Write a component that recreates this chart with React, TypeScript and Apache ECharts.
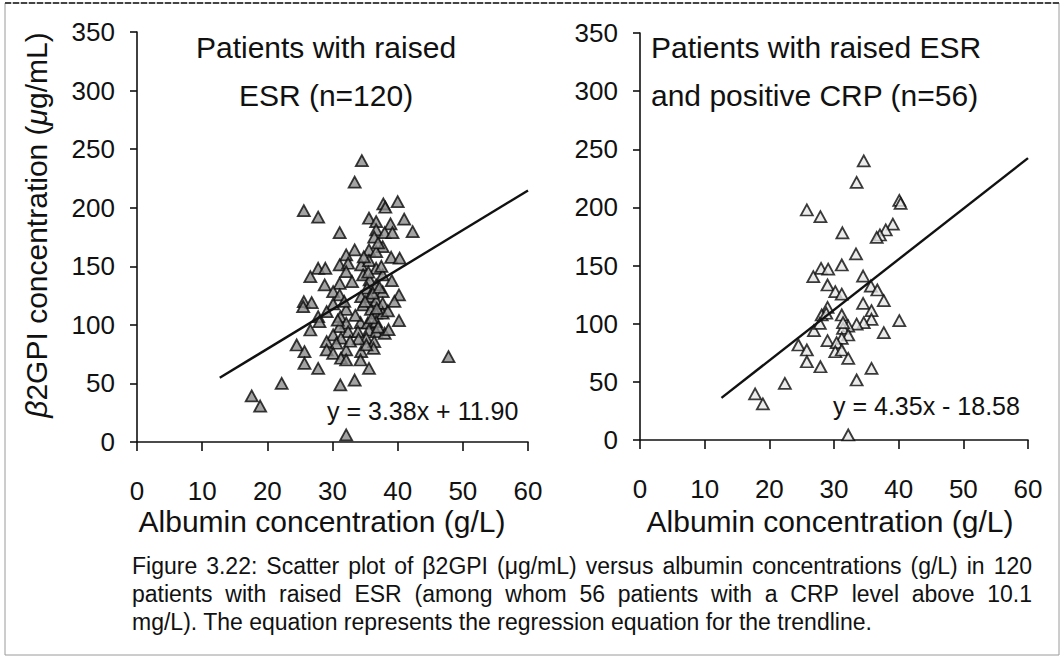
import React, { useEffect, useRef } from "react";
import * as echarts from "echarts";

// ---- Data: all patients with raised ESR (n=120) ----
const esrAlbumin = [
  34.5, 33.4, 40.0, 37.8, 38.1, 25.6, 27.8, 41.0, 35.6, 36.7, 38.9, 42.3, 31.1, 36.7, 38.0, 39.2, 36.4, 37.7, 33.4, 35.6,
  32.1, 36.7, 39.0, 40.3, 31.1, 32.4, 27.8, 28.9, 34.4, 35.6, 36.7, 32.1, 26.6, 34.7, 37.7, 35.7, 39.1, 28.8, 31.1, 36.7,
  30.1, 35.3, 37.7, 31.1, 34.4, 35.7, 40.2, 36.7, 25.6, 26.8, 37.7, 25.5, 30.1, 34.7, 35.9, 32.1, 29.1, 36.7, 37.7, 27.8,
  31.2, 40.2, 28.0, 32.1, 34.3, 35.4, 36.7, 26.6, 31.1, 32.4, 33.9, 35.6, 36.7, 38.0, 30.1, 31.3, 35.2, 29.1, 24.5, 30.6,
  36.4, 25.7, 29.1, 30.1, 32.1, 34.4, 31.3, 32.1, 34.3, 25.7, 27.8, 35.6, 33.4, 31.2, 22.2, 17.6, 18.9, 32.1, 47.8, 36.2,
  37.2, 35.0, 36.0, 37.0, 33.5, 34.0, 36.8, 35.5, 33.0, 38.6, 31.8, 36.3, 37.5, 34.8, 30.8, 38.5, 35.2, 32.7, 37.0, 39.5,
];
const esrB2gpi = [
  240.2, 221.8, 205.2, 203.2, 200.4, 197.5, 191.9, 190.2, 191.0, 188.1, 186.2, 179.6, 178.7, 181.0, 178.7, 178.7, 174.8, 166.8, 164.0, 164.0,
  159.7, 162.5, 157.7, 156.9, 151.2, 152.6, 148.3, 148.3, 151.2, 154.8, 148.3, 145.4, 141.2, 142.6, 142.6, 138.3, 137.7, 134.1, 135.5, 134.1,
  128.4, 131.3, 128.4, 125.5, 124.1, 124.1, 125.5, 120.7, 119.8, 119.0, 118.4, 115.5, 117.8, 117.0, 113.3, 113.3, 111.3, 109.9, 109.9, 107.0,
  107.0, 103.6, 102.7, 101.4, 101.9, 101.4, 102.7, 95.6, 98.5, 94.2, 94.2, 95.6, 94.2, 92.8, 91.4, 88.6, 88.6, 85.7, 82.8, 84.3,
  85.7, 77.1, 78.6, 75.7, 78.6, 77.1, 71.5, 70.0, 70.0, 67.2, 62.9, 62.9, 52.9, 48.7, 50.1, 39.3, 30.7, 6.0, 72.8, 127.0,
  132.0, 120.0, 106.0, 98.0, 108.0, 88.0, 114.0, 145.0, 137.0, 96.0, 120.0, 80.0, 150.0, 158.0, 104.0, 112.0, 83.0, 86.0, 170.0, 120.0,
];

// ---- Data: raised ESR and positive CRP (n=56) ----
const crpAlbumin = [
  34.6, 33.5, 40.1, 40.3, 25.8, 27.9, 39.1, 38.0, 37.1, 36.6, 31.3, 33.4, 31.2, 28.0, 29.1, 26.8, 34.5, 29.0, 35.7, 30.2,
  31.2, 36.7, 37.7, 34.5, 35.8, 29.0, 28.1, 31.2, 35.8, 34.6, 33.5, 40.1, 32.2, 31.4, 26.9, 27.8, 37.7, 32.2, 31.2, 29.0,
  30.4, 24.5, 25.8, 30.2, 31.2, 32.2, 25.8, 27.9, 35.8, 33.5, 22.4, 17.8, 19.0, 32.2, 28.8, 31.4,
];
const crpB2gpi = [
  240.0, 221.6, 206.0, 203.5, 197.8, 192.0, 185.7, 180.6, 176.3, 174.3, 178.2, 160.0, 150.5, 147.6, 147.0, 140.4, 141.0, 133.3, 132.4, 127.5,
  125.5, 129.0, 119.8, 117.5, 111.2, 114.1, 107.5, 107.5, 103.8, 100.9, 99.7, 102.6, 98.0, 96.0, 94.0, 100.3, 92.3, 90.3, 87.4, 85.4,
  83.7, 81.7, 77.4, 75.9, 77.4, 70.2, 67.3, 63.0, 61.6, 51.6, 48.7, 39.6, 31.0, 4.3, 109.0, 100.9,
];

// Regression trendlines (from the printed equations)
const esrSlope = 3.38;
const esrIntercept = 11.9;
const esrRange = [12.7, 60];
const crpSlope = 4.35;
const crpIntercept = -18.58;
const crpRange = [12.6, 60];

const xTickValues = [0, 10, 20, 30, 40, 50, 60];
const yTickValues = [0, 50, 100, 150, 200, 250, 300, 350];

const leftTitle = "Patients with raised\nESR (n=120)";
const rightTitle = "Patients with raised ESR\nand positive CRP (n=56)";
const leftEquation = "y = 3.38x + 11.90";
const rightEquation = "y = 4.35x - 18.58";
const xAxisTitle = "Albumin concentration (g/L)";
const captionLines = [
  "Figure 3.22: Scatter plot of \u03b22GPI (\u03bcg/mL) versus albumin concentrations (g/L) in 120",
  "patients with raised ESR (among whom 56 patients with a CRP level above 10.1",
  "mg/L). The equation represents the regression equation for the trendline.",
];

const FONT = "'Liberation Sans', Arial, Helvetica, sans-serif";

function pairs(xs: number[], ys: number[]) {
  return xs.map((x, i) => [x, ys[i]]);
}
function trend(slope: number, intercept: number, range: number[]) {
  return range.map((x) => [x, slope * x + intercept]);
}

// Lay out one caption line word by word so that it fills the given width (justified text)
function justifiedLine(text: string, left: number, width: number, y: number, font: string, justify: boolean) {
  const canvas = document.createElement("canvas");
  const ctx = canvas.getContext("2d")!;
  ctx.font = font;
  if (!justify) {
    return [{ type: "text", x: left, y, style: { text, font, fill: "#111", align: "left", verticalAlign: "middle" } }];
  }
  const words = text.split(" ");
  const widths = words.map((w) => ctx.measureText(w).width);
  const total = widths.reduce((a, b) => a + b, 0);
  const gap = (width - total) / (words.length - 1);
  let x = left;
  return words.map((w, i) => {
    const el = { type: "text", x, y, style: { text: w, font, fill: "#111", align: "left", verticalAlign: "middle" } };
    x += widths[i] + gap;
    return el;
  });
}

export default function App() {
  const ref = useRef<HTMLDivElement>(null);
  useEffect(() => {
    if (!ref.current) return;
    const chart = echarts.init(ref.current, undefined, { renderer: "svg" });

    const axisText = { color: "#111", fontSize: 26, fontFamily: FONT };
    const makeX = (gridIndex: number) => ({
      type: "value",
      gridIndex,
      min: 0,
      max: 60,
      interval: 10,
      splitLine: { show: false },
      axisLine: { show: true, onZero: false, lineStyle: { color: "#111", width: 1.6 } },
      axisTick: { show: true, inside: false, length: 9, lineStyle: { color: "#111", width: 1.6 } },
      axisLabel: { ...axisText, margin: 36, formatter: (v: number) => (xTickValues.includes(v) ? String(v) : "") },
    });
    const makeY = (gridIndex: number) => ({
      type: "value",
      gridIndex,
      min: 0,
      max: 350,
      interval: 50,
      splitLine: { show: false },
      axisLine: { show: true, onZero: false, lineStyle: { color: "#111", width: 1.6 } },
      axisTick: { show: true, inside: false, length: 7, lineStyle: { color: "#111", width: 1.6 } },
      axisLabel: { ...axisText, margin: 22, formatter: (v: number) => (yTickValues.includes(v) ? String(v) : "") },
    });

    const markerLeft = { color: "#8c8c8c", borderColor: "#0a0a0a", borderWidth: 1.8 };
    const markerRight = { color: "#e6e6e6", borderColor: "#0a0a0a", borderWidth: 1.8 };

    const capFont = `23px ${FONT}`;
    const captionY = [566, 594, 622];
    const caption = captionLines.flatMap((t, i) => justifiedLine(t, 132, 900, captionY[i], capFont, i < 2));

    chart.setOption({
      animation: false,
      backgroundColor: "#ffffff",
      grid: [
        { left: 137, right: 536, top: 32, bottom: 225, containLabel: false },
        { left: 640, right: 36, top: 33, bottom: 227, containLabel: false },
      ],
      xAxis: [makeX(0), makeX(1)],
      yAxis: [makeY(0), makeY(1)],
      series: [
        {
          type: "scatter",
          xAxisIndex: 0,
          yAxisIndex: 0,
          symbol: "triangle",
          symbolSize: [12, 11],
          itemStyle: markerLeft,
          data: pairs(esrAlbumin, esrB2gpi),
          z: 3,
        },
        {
          type: "line",
          xAxisIndex: 0,
          yAxisIndex: 0,
          showSymbol: false,
          symbol: "none",
          lineStyle: { color: "#111", width: 2.4 },
          data: trend(esrSlope, esrIntercept, esrRange),
          z: 4,
        },
        {
          type: "scatter",
          xAxisIndex: 1,
          yAxisIndex: 1,
          symbol: "triangle",
          symbolSize: [12, 11],
          itemStyle: markerRight,
          data: pairs(crpAlbumin, crpB2gpi),
          z: 3,
        },
        {
          type: "line",
          xAxisIndex: 1,
          yAxisIndex: 1,
          showSymbol: false,
          symbol: "none",
          lineStyle: { color: "#111", width: 2.4 },
          data: trend(crpSlope, crpIntercept, crpRange),
          z: 4,
        },
      ],
      graphic: [
        // page frame
        { type: "rect", shape: { x: 5, y: 3, width: 1054, height: 652 }, style: { fill: "none", stroke: "#9a9a9a", lineWidth: 1 }, silent: true },
        { type: "line", shape: { x1: 5, y1: 3, x2: 1059, y2: 3 }, style: { stroke: "#444", lineWidth: 2, lineDash: [6, 2] }, silent: true },
        // panel titles
        { type: "text", x: 326, y: 71, style: { text: leftTitle, font: `30px ${FONT}`, fill: "#111", align: "center", verticalAlign: "middle", lineHeight: 48 } },
        { type: "text", x: 651, y: 71, style: { text: rightTitle, font: `30px ${FONT}`, fill: "#111", align: "left", verticalAlign: "middle", lineHeight: 48 } },
        // equations
        { type: "text", x: 327, y: 411, style: { text: leftEquation, font: `25px ${FONT}`, fill: "#111", align: "left", verticalAlign: "middle" } },
        { type: "text", x: 833, y: 406, style: { text: rightEquation, font: `25px ${FONT}`, fill: "#111", align: "left", verticalAlign: "middle" } },
        // axis titles
        { type: "text", x: 322, y: 521, style: { text: xAxisTitle, font: `30px ${FONT}`, fill: "#111", align: "center", verticalAlign: "middle" } },
        { type: "text", x: 830, y: 521, style: { text: xAxisTitle, font: `30px ${FONT}`, fill: "#111", align: "center", verticalAlign: "middle" } },
        {
          type: "text",
          x: 36,
          y: 225,
          rotation: Math.PI / 2,
          style: {
            text: "{i|\u03b2}2GPI concentration ({i|\u03bc}g/mL)",
            font: `30px ${FONT}`,
            fill: "#111",
            align: "center",
            verticalAlign: "middle",
            rich: { i: { fontStyle: "italic", fontSize: 30, fontFamily: FONT, fill: "#111" } },
          },
        },
        // caption
        ...caption,
      ],
    });
    return () => chart.dispose();
  }, []);

  return (
    <div
      ref={ref}
      style={{ position: "absolute", left: 0, top: 0, width: 1064, height: 667, background: "#fff" }}
    />
  );
}
